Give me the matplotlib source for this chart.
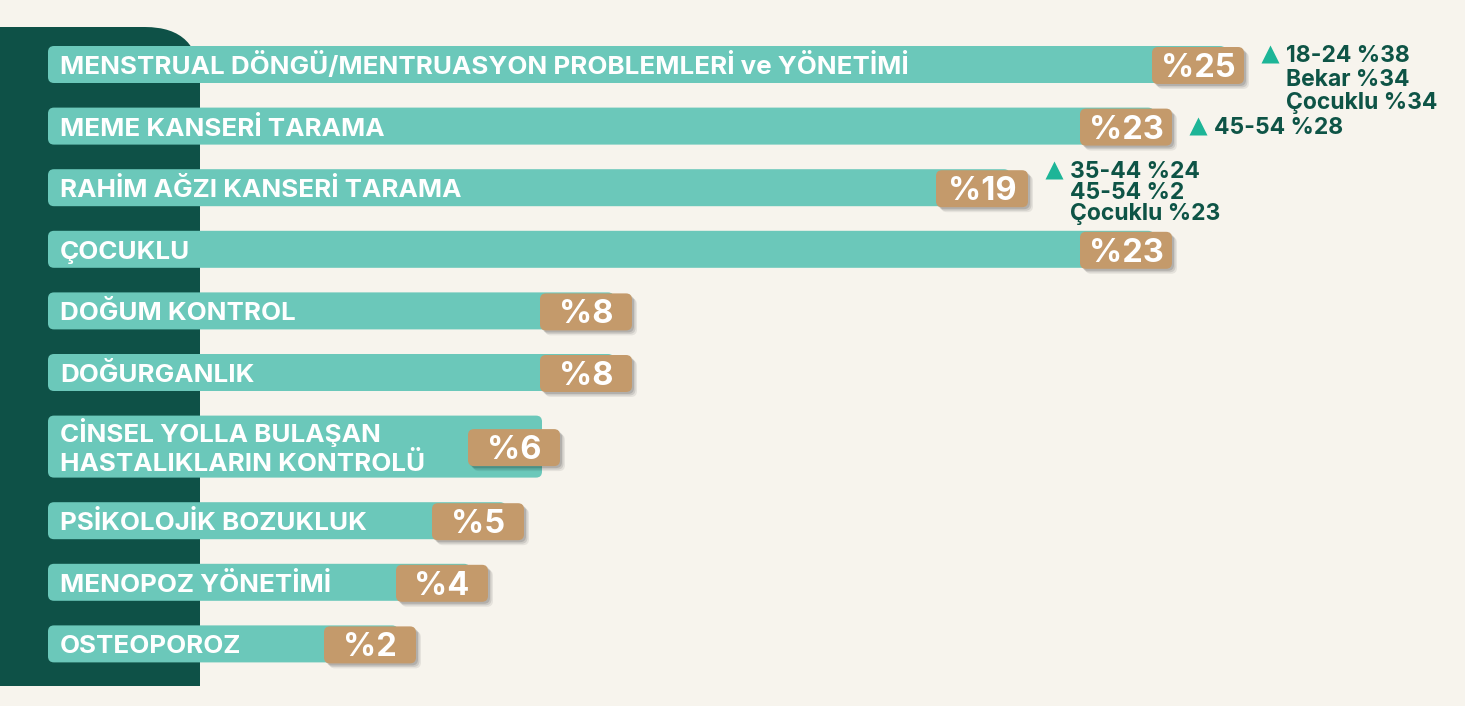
import matplotlib
matplotlib.use("Agg")
import matplotlib.pyplot as plt
from matplotlib.patches import FancyBboxPatch, Rectangle

# Data
categories = [
    "MENSTRUAL DÖNGÜ/MENTRUASYON PROBLEMLERİ ve YÖNETİMİ",
    "MEME KANSERİ TARAMA",
    "RAHİM AĞZI KANSERİ TARAMA",
    "ÇOCUKLU",
    "DOĞUM KONTROL",
    "DOĞURGANLIK",
    "CİNSEL YOLLA BULAŞAN\nHASTALIKLARIN KONTROLÜ",
    "PSİKOLOJİK BOZUKLUK",
    "MENOPOZ YÖNETİMİ",
    "OSTEOPOROZ",
]
values = [25, 23, 19, 23, 8, 8, 6, 5, 4, 2]
note_rows = [0, 1, 2]
note_texts = [
    ["18-24 %38", "Bekar %34", "Çocuklu %34"],
    ["45-54 %28"],
    ["35-44 %24", "45-54 %2", "Çocuklu %23"],
]

# Style
BG = "#f7f4ed"
PANEL = "#0e5147"
TEAL = "#6bc8ba"
TAN = "#c49a6b"
NOTE = "#0e5446"
TRI = "#1db597"
FONT = "Inter"

W, H = 1465, 706
ZERO_PX = 344       # pixel where 0 % sits
PX_PER_PCT = 36.0   # pixels per percentage point
BAR_LEFT_PX = 48
BAR_H = 37
DOUBLE_H = 62
GAP = 24.6
FIRST_TOP = 46
BADGE_W = 92


def px(p):
    return p / PX_PER_PCT


fig = plt.figure(figsize=(W / 100, H / 100), dpi=100)
fig.patch.set_facecolor(BG)

# background panel
bg = fig.add_axes([0, 0, 1, 1])
bg.set_xlim(0, W)
bg.set_ylim(H, 0)
bg.axis("off")
bg.add_patch(FancyBboxPatch((-80, 27), 280, 200, boxstyle="round,pad=0,rounding_size=55",
                            fc=PANEL, ec="none"))
bg.add_patch(Rectangle((0, 90), 200, 596, fc=PANEL, ec="none"))

ax = fig.add_axes([0, 0, 1, 1])
ax.set_xlim(-ZERO_PX / PX_PER_PCT, (W - ZERO_PX) / PX_PER_PCT)
ax.set_ylim(H, 0)
ax.axis("off")
ax.patch.set_alpha(0)

bar_left = px(BAR_LEFT_PX - ZERO_PX)

top = FIRST_TOP
centers = []
for cat, v in zip(categories, values):
    lines = cat.split("\n")
    h = DOUBLE_H if len(lines) > 1 else BAR_H
    c = top + h / 2
    centers.append(c)

    # bar
    ax.add_patch(FancyBboxPatch((bar_left, top), v - px(18) - bar_left, h,
                                boxstyle=f"round,pad=0,rounding_size={px(6)}",
                                mutation_aspect=PX_PER_PCT, fc=TEAL, ec="none", zorder=2))
    # label
    pitch = 29
    y0 = c - pitch * (len(lines) - 1) / 2
    for i, ln in enumerate(lines):
        ax.text(bar_left + px(12), y0 + i * pitch + 9.5, ln, ha="left", va="baseline",
                fontsize=18.7, fontweight="bold", color="white", family=FONT, zorder=3)

    # badge with soft shadow
    bt = c - BAR_H / 2 + 1
    for k, a in [(5, 0.07), (3.5, 0.10), (2, 0.13)]:
        ax.add_patch(FancyBboxPatch((v - px(BADGE_W) + px(k), bt + k), px(BADGE_W), BAR_H,
                                    boxstyle=f"round,pad=0,rounding_size={px(6)}",
                                    mutation_aspect=PX_PER_PCT, fc="black", alpha=a,
                                    ec="none", zorder=4))
    ax.add_patch(FancyBboxPatch((v - px(BADGE_W), bt), px(BADGE_W), BAR_H,
                                boxstyle=f"round,pad=0,rounding_size={px(6)}",
                                mutation_aspect=PX_PER_PCT, fc=TAN, ec="none", zorder=5))
    ax.text(v - px(BADGE_W / 2), bt + BAR_H / 2 + 11.5, f"%{v}", ha="center", va="baseline",
            fontsize=23.5, fontweight="bold", color="white", family=FONT, zorder=6)

    top += h + GAP

# notes: first-baseline offset from bar centre and line pitch per note
note_layout = [(-3, 24), (8, 20), (-9.5, 21)]
for r, lines, (off, pitch) in zip(note_rows, note_texts, note_layout):
    v = values[r]
    b0 = centers[r] + off
    ax.plot(v + px(26), b0 - 8, marker="^", ms=13.5, color=TRI, mec="none", zorder=6)
    for i, ln in enumerate(lines):
        ax.text(v + px(42), b0 + i * pitch, ln, ha="left", va="baseline",
                fontsize=16.5, fontweight="bold", color=NOTE, family=FONT, zorder=6)

fig.savefig("out.png", dpi=100, facecolor=BG)
